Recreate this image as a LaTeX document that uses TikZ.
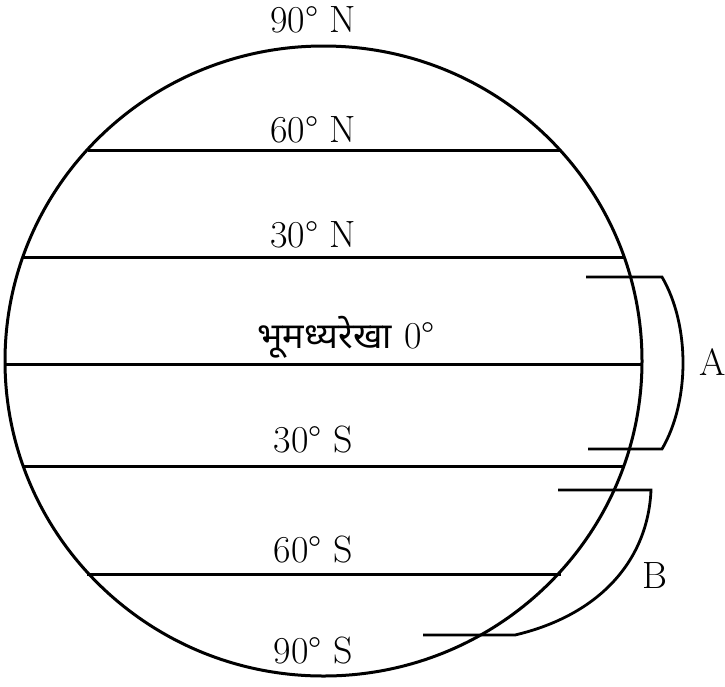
\documentclass[tikz,border=0pt]{standalone}
\usepackage{fontspec}
\newfontfamily\devfont[Script=Devanagari]{Noto Sans}
\tikzset{
  latline/.style={line width=3pt},
  latlabel/.style={anchor=base, inner sep=0pt, font=\fontsize{38}{44}\selectfont},
  bracket/.style={line width=2.8pt, line join=miter}
}
\begin{document}
\begin{tikzpicture}[x=1pt, y=-1pt]
  \useasboundingbox (0,0) rectangle (725,686);
  \coordinate (c) at (323.5,361);
  \draw[latline] (c) ellipse [x radius=318.5, y radius=315];
  % parallels
  \foreach \y/\hw in {150/236, 257/301, 364/318.5, 466/300, 574/237} {
    \draw[latline] (323.5-\hw,\y) -- (323.5+\hw,\y);
  }
  \foreach \n/\y/\t in {n90/32/90° N, n60/142/60° N, n30/247/30° N, s30/452/30° S, s60/562/60° S, s90/663/90° S} {
    \node[latlabel] (\n) at (313,\y) {\t};
  }
  \node[latlabel] (eq) at (346,348) {{\devfont\fontsize{36}{44}\selectfont भूमध्यरेखा}\hspace{12pt}0°};
  % A and B
  \coordinate (a1) at (586,277);
  \coordinate (a2) at (662,277);
  \coordinate (a3) at (662,449);
  \coordinate (a4) at (588,449);
  \draw[bracket] (a1) -- (a2) .. controls (690,325) and (690,401) .. (a3) -- (a4);
  \node[latlabel] (A) at (713,375) {A};
  \coordinate (b1) at (558,490);
  \coordinate (b2) at (651,490);
  \coordinate (b3) at (515,635);
  \coordinate (b4) at (423,635);
  \draw[bracket] (b1) -- (b2) .. controls (648,560) and (600,615) .. (b3) -- (b4);
  \node[latlabel] (B) at (655,588) {B};
\end{tikzpicture}
\end{document}
